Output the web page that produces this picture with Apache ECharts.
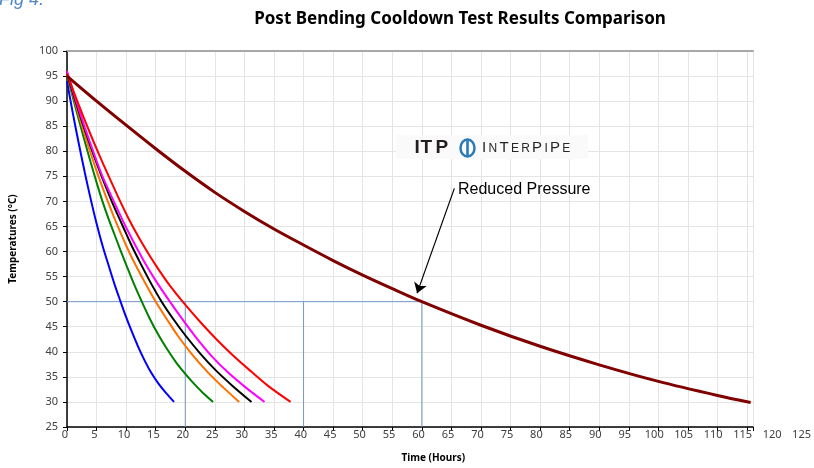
<!DOCTYPE html>
<html><head><meta charset="utf-8">
<script src="https://cdn.jsdelivr.net/npm/echarts@6/dist/echarts.min.js"></script>
<style>html,body{margin:0;padding:0;background:#fff}#c{width:814px;height:468px}</style>
</head><body><div id="c"></div>
<script>
const chartTitle = 'Post Bending Cooldown Test Results Comparison';
const figLabel = 'Fig 4.';
const xName = 'Time (Hours)';
const yName = 'Temperatures (°C)';
const annotationText = 'Reduced Pressure';
const xLabelMax = 125, plotXMax = 116, yMin = 25, yMax = 100, tickStep = 5;

const blueData = [[0,94],[1,87.5],[2,81.5],[3,75.8],[4,70.5],[5,65.6],[6,61.2],[6.75,58.3],[8,53.6],[9,50.2],[10,46.9],[11,43.9],[12,41.1],[13.2,38.1],[14.3,35.7],[15.5,33.6],[16.8,31.7],[18.1,30]];
const greenData = [[0,95.3],[1,90.7],[2,86.3],[3,82],[4,77.8],[5,73.8],[6,70],[7,66.6],[8,63.5],[9,60.4],[10,57.4],[11.3,53.6],[12.65,50],[14,46.6],[15.5,43.3],[17,40.4],[18.5,37.8],[20,35.6],[21.5,33.6],[23,31.8],[24.7,30]];
const orangeData = [[0,95.5],[1,91.3],[2,87.2],[3,83.3],[4,79.6],[5,76.1],[6,72.8],[7,69.7],[8,66.7],[9,63.9],[10,61.2],[11.25,58.1],[13,54.2],[14.9,50.2],[17,46.3],[18.8,43.1],[21,39.7],[23.9,35.8],[26.5,32.8],[29.1,30]];
const blackData = [[0,95.5],[1,91.6],[2,87.9],[3,84.3],[4,80.9],[5,77.7],[6,74.6],[7.5,70.2],[8.5,67.5],[9.5,64.9],[10.8,61.5],[12.1,58.4],[14,54.1],[16,50],[18,46.5],[20,43.3],[22.5,39.7],[25,36.5],[28,33.2],[31.2,30]];
const magentaData = [[0,96],[1,92.1],[2,88.4],[3,84.8],[4,81.4],[5,78.1],[6,75],[7.8,70.3],[10,64.8],[12.9,58.3],[15,54.2],[17.4,50],[19.5,46.5],[21.6,43.2],[24.5,39.1],[27.3,35.8],[30.3,32.8],[33.4,30]];
const redData = [[0,95.5],[1,92.3],[2,89.2],[3,86.2],[4,83.3],[5,80.5],[6,77.8],[7.6,73.6],[8.8,70.5],[10.4,66.6],[12.1,62.9],[13.8,59.5],[15.5,56.4],[17.4,53.2],[19.7,49.8],[22.8,45.6],[25.6,42.1],[28.4,38.9],[31.2,36],[34,33.2],[37.8,30]];
const reducedPressureData = [[0,95],[5,90],[10,85.2],[15,80.5],[20,76],[25,71.8],[30,68],[35,64.5],[40,61.3],[45,58.2],[50,55.3],[55,52.6],[60,50],[70,45.3],[80,41.1],[90,37.4],[100,34.1],[110,31.3],[115.6,29.9]];

const refLevel = 50;
const refTimes = [20, 40, 60];
const arrowFrom = [65.5, 72.6];
const arrowTo = [59.2, 51.7];

const curveDefs = [
  {name:'A', data: blueData, color:'#0000ff', width:2},
  {name:'B', data: greenData, color:'#008000', width:2},
  {name:'C', data: orangeData, color:'#ff7000', width:2},
  {name:'D', data: blackData, color:'#000000', width:2},
  {name:'E', data: magentaData, color:'#ff00ff', width:2},
  {name:'F', data: redData, color:'#ff0000', width:2},
  {name:'Reduced Pressure', data: reducedPressureData, color:'#800000', width:3}
];

const refColor = '#7399c6';
const series = [];
series.push({type:'line', xAxisIndex:0, yAxisIndex:0, data:[[0,refLevel],[refTimes[refTimes.length-1],refLevel]], symbol:'none', silent:true, lineStyle:{color:refColor,width:1}, z:1});
refTimes.forEach(t => series.push({type:'line', xAxisIndex:0, yAxisIndex:0, data:[[t,refLevel],[t,yMin]], symbol:'none', silent:true, lineStyle:{color:refColor,width:1}, z:1}));
curveDefs.forEach(c => series.push({type:'line', name:c.name, xAxisIndex:0, yAxisIndex:0, data:c.data, smooth:0.3, symbol:'none', lineStyle:{color:c.color,width:c.width}, z:3}));
series.push({type:'line', xAxisIndex:0, yAxisIndex:0, data:[], z:5,
  markLine:{silent:true, symbol:['none','arrow'], symbolSize:10, label:{show:false},
    lineStyle:{color:'#000',width:1.2,type:'solid'},
    data:[[{coord:arrowFrom},{coord:arrowTo}]]}});

const lab = {fontFamily:'Noto Sans', fontSize:11, color:'#404040'};
const chart = echarts.init(document.getElementById('c'), null, {renderer:'canvas'});
const itpY = 147.8;
const bigY = 148.1, smallY = 149.1;
function letter(x, ch, size, y){return {type:'text', x:x, y:y, z:20, style:{text:ch, fontFamily:'Liberation Sans', fontSize:size, fill:'#262626', verticalAlign:'middle', align:'left'}};}
function itp(x, ch){return {type:'text', x:x, y:itpY, z:20, style:{text:ch, fontFamily:'Liberation Sans', fontWeight:'bold', fontSize:19, fill:'#231f20', verticalAlign:'middle'}};}
chart.setOption({
  animation:false,
  backgroundColor:'#fff',
  title:{text:chartTitle, left:455, top:6, textAlign:'center', textStyle:{fontFamily:'Noto Sans', fontWeight:'bold', fontSize:17, color:'#000'}},
  grid:[{left:65, right:61, top:51, bottom:41}, {left:65, right:8, top:51, bottom:41}],
  xAxis:[
    {type:'value', gridIndex:0, min:0, max:plotXMax, interval:tickStep,
     axisLine:{show:true, lineStyle:{color:'#000', width:1.5}}, axisTick:{show:true, length:4, lineStyle:{color:'#000'}},
     axisLabel:{show:false}, splitLine:{show:true, lineStyle:{color:'#e4e4e4', width:1}}},
    {type:'value', gridIndex:1, min:0, max:xLabelMax, interval:tickStep,
     axisLine:{show:false}, axisTick:{show:false}, splitLine:{show:false},
     axisLabel:Object.assign({margin:9}, lab),
     name:xName, nameLocation:'middle', nameGap:33,
     nameTextStyle:{fontFamily:'Noto Sans', fontWeight:'bold', fontSize:10, color:'#000'}},
    {type:'value', gridIndex:0, position:'top', min:0, max:plotXMax,
     axisLine:{show:true, lineStyle:{color:'#a8a8a8', width:2}}, axisTick:{show:false}, axisLabel:{show:false}, splitLine:{show:false}}
  ],
  yAxis:[
    {type:'value', gridIndex:0, min:yMin, max:yMax, interval:tickStep,
     axisLine:{show:true, lineStyle:{color:'#000', width:1.5}}, axisTick:{show:true, length:4, lineStyle:{color:'#000'}},
     axisLabel:Object.assign({margin:9}, lab),
     splitLine:{show:true, lineStyle:{color:'#e4e4e4', width:1}},
     name:yName, nameLocation:'middle', nameGap:49,
     nameTextStyle:{fontFamily:'Noto Sans', fontWeight:'bold', fontSize:10, color:'#000'}},
    {type:'value', gridIndex:1, min:yMin, max:yMax, show:false}
  ],
  series: series,
  graphic:[
    {type:'text', x:-1, y:-9, z:20, style:{text:figLabel, fontFamily:'Liberation Sans', fontStyle:'italic', fontSize:18, fill:'#4f86c6'}},
    {type:'rect', shape:{x:396, y:135, width:192, height:24}, z:15, style:{fill:'#fafafa'}},
    itp(414.5,'I'), itp(420.5,'T'), itp(435.5,'P'),
    {type:'ellipse', shape:{cx:467.5, cy:148, rx:7, ry:8.5}, z:20, style:{fill:'none', stroke:'#2a7ab8', lineWidth:2.5}},
    {type:'rect', shape:{x:466.2, y:139, width:2.6, height:18}, z:20, style:{fill:'#2a7ab8'}},
    letter(482,'I',15,bigY), letter(488.4,'N',12,smallY), letter(499.4,'T',15,bigY), letter(510.9,'E',12,smallY),
    letter(521.2,'R',12,smallY), letter(532.1,'P',15,bigY), letter(544.4,'I',12,smallY), letter(550,'P',15,bigY), letter(562.3,'E',12,smallY),
    {type:'text', x:458, y:189.5, z:20, style:{text:annotationText, fontFamily:'Liberation Sans', fontSize:16, fill:'#000', verticalAlign:'middle'}}
  ]
});
</script></body></html>
